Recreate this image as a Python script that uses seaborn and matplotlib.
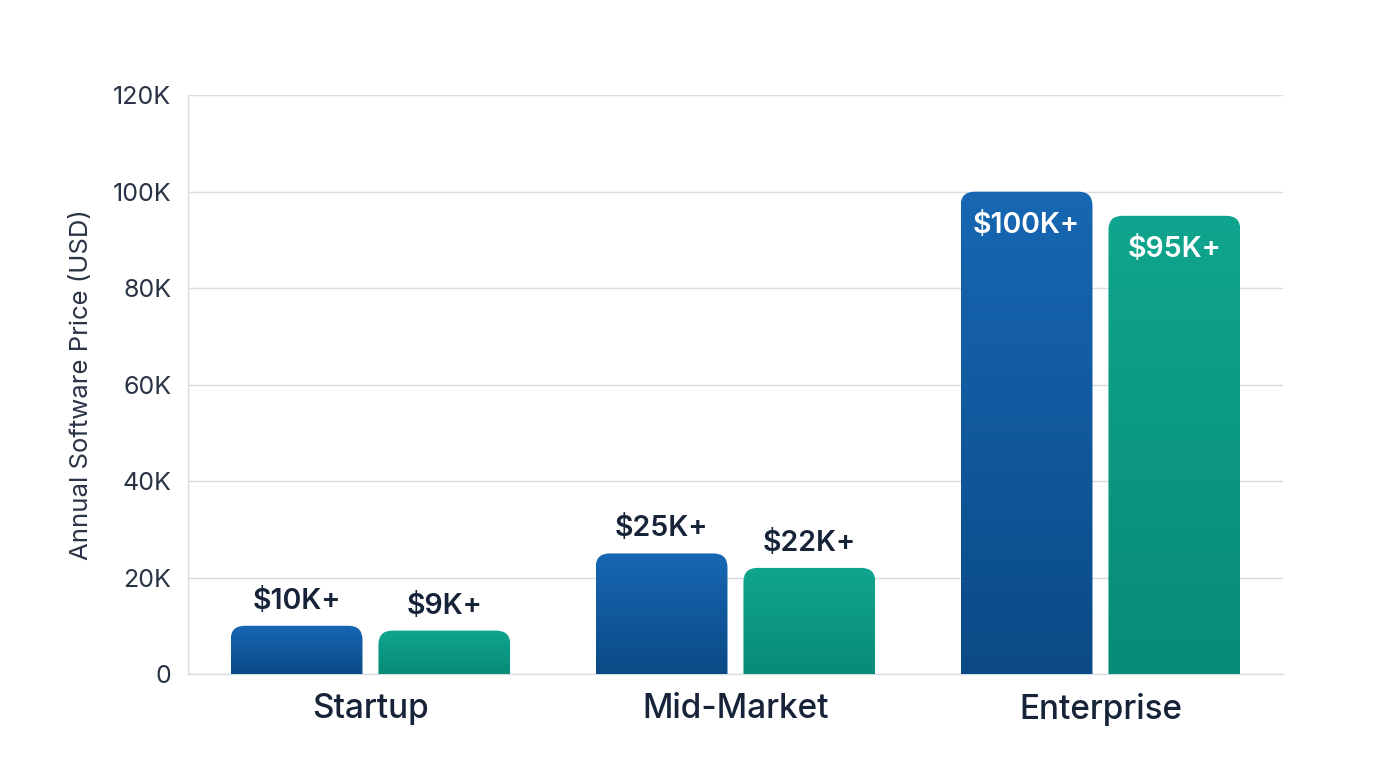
import numpy as np
import pandas as pd
import matplotlib
matplotlib.use("Agg")
import matplotlib.pyplot as plt
import seaborn as sns
from matplotlib.patches import FancyBboxPatch
from matplotlib.colors import LinearSegmentedColormap
from matplotlib.ticker import FuncFormatter

# data
segments = ["Startup", "Mid-Market", "Enterprise"]
series = ["A", "B"]
values_a = [10000, 25000, 100000]
values_b = [9000, 22000, 95000]
labels_a = ["$10K+", "$25K+", "$100K+"]
labels_b = ["$9K+", "$22K+", "$95K+"]

df = pd.DataFrame({
    "segment": segments * 2,
    "series": [series[0]] * 3 + [series[1]] * 3,
    "price": values_a + values_b,
    "label": labels_a + labels_b,
})

grads = {
    "A": ("#1767b3", "#0b4a86"),
    "B": ("#10a58e", "#078b76"),
}
text_dark = "#172338"
grid_col = "#d8dde3"

sns.set_theme(style="white")
plt.rcParams["font.family"] = ["Inter", "DejaVu Sans"]

fig, ax = plt.subplots(figsize=(13.76, 7.68), dpi=100)
fig.subplots_adjust(left=0.1366, right=0.9324, top=0.876, bottom=0.1224)

sns.barplot(data=df, x="segment", y="price", hue="series", palette=["#1767b3", "#10a58e"],
            width=0.81, gap=0.108, legend=False, ax=ax)

ax.set_ylim(0, 120000)
ax.set_xlim(-0.5, 2.5)

# px per data unit, for rounding the corners
ax_w_px = fig.get_figwidth() * fig.dpi * (0.9324 - 0.1366)
ax_h_px = fig.get_figheight() * fig.dpi * (0.876 - 0.1224)
x_per_px = 3.0 / ax_w_px
y_per_px = 120000 / ax_h_px
aspect = y_per_px / x_per_px
r_px = 14

bars = list(ax.patches)
rows = df.reset_index(drop=True)
for bar, (_, row) in zip(bars, rows.iterrows()):
    x0 = bar.get_x()
    w = bar.get_width()
    h = bar.get_height()
    bar.set_visible(False)
    pad = r_px * 2 * y_per_px
    patch = FancyBboxPatch((x0, -pad), w, h + pad,
                           boxstyle=f"round,pad=0,rounding_size={r_px * x_per_px}",
                           mutation_aspect=aspect, linewidth=0,
                           facecolor="none", edgecolor="none", zorder=3)
    ax.add_patch(patch)
    top_c, bot_c = grads[row["series"]]
    cmap = LinearSegmentedColormap.from_list("g", [bot_c, top_c])
    grad = np.linspace(0, 1, 256).reshape(-1, 1)
    im = ax.imshow(grad, cmap=cmap, origin="lower", aspect="auto",
                   extent=(x0, x0 + w, 0, h), zorder=3, interpolation="bicubic")
    im.set_clip_path(patch)

    cx = x0 + w / 2
    if h > 60000:
        ax.text(cx, h - 20 * y_per_px, row["label"], ha="center", va="top",
                color="white", fontsize=20.5, fontweight="semibold", zorder=5)
    else:
        ax.text(cx, h + 11 * y_per_px, row["label"], ha="center", va="bottom",
                color=text_dark, fontsize=20.5, fontweight="semibold", zorder=5)

ax.set_ylim(0, 120000)
ax.set_xlim(-0.5, 2.5)

ax.set_yticks(np.arange(0, 120001, 20000))
ax.yaxis.set_major_formatter(FuncFormatter(lambda v, p: "0" if v == 0 else f"{int(v / 1000)}K"))
ax.grid(axis="y", color=grid_col, linewidth=1.0, zorder=0)
ax.set_axisbelow(True)

for s in ["top", "right"]:
    ax.spines[s].set_visible(False)
ax.spines["left"].set_color(grid_col)
ax.spines["bottom"].set_color(grid_col)
ax.spines["left"].set_linewidth(1.0)
ax.spines["bottom"].set_linewidth(1.0)

ax.tick_params(axis="y", labelsize=18, colors="#2a3446", length=0, pad=12)
ax.tick_params(axis="x", labelsize=24, colors=text_dark, length=0, pad=14)
for t in ax.get_xticklabels():
    t.set_fontweight("medium")

ax.set_xlabel("")
ax.set_ylabel("Annual Software Price (USD)", fontsize=18.5, color="#2a3446", labelpad=14)

fig.savefig("out.png", dpi=100, facecolor="white")
